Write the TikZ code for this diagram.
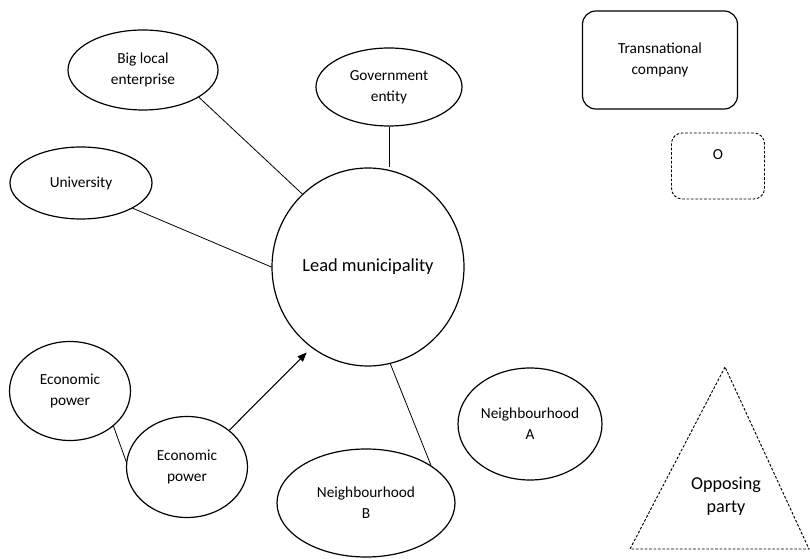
\documentclass[tikz,border=0pt]{standalone}
\usepackage{fontspec}
\setmainfont{Carlito}
\usetikzlibrary{shapes.geometric, arrows.meta, positioning, calc}

\begin{document}
\begin{tikzpicture}[x=0.75pt, y=-0.75pt,
        actor/.style={draw, ellipse, line width=0.9pt, inner sep=0pt, align=center,
            font=\fontsize{11.5}{15.5}\selectfont},
        company/.style={draw, rectangle, rounded corners=10pt, line width=0.9pt, inner sep=0pt,
            align=center, font=\fontsize{11.5}{15.5}\selectfont},
        dashline/.style={line width=0.7pt, dash pattern=on 2pt off 1.3pt},
        link/.style={line width=0.6pt}]
    \useasboundingbox (0,0) rectangle (810,559);

    % central actor
    \node[actor, minimum width=144pt, minimum height=148.5pt,
        font=\fontsize{13.8}{17}\selectfont] (lead) at (368,267) {Lead municipality};

    \node[actor, minimum width=112.5pt, minimum height=60pt] (big) at (143,70) {Big local\\enterprise};
    \node[actor, minimum width=109.5pt, minimum height=58.5pt] (gov) at (389,87) {Government\\entity};
    \node[actor, minimum width=106.5pt, minimum height=54pt] (uni) at (81,183) {University};
    \node[actor, minimum width=90.75pt, minimum height=74.25pt] (econA) at (70,391) {Economic\\power};
    \node[actor, minimum width=90.75pt, minimum height=75.75pt] (econB) at (187,467) {Economic\\power};
    \node[actor, minimum width=108pt, minimum height=84pt] (hoodA) at (530,424) {Neighbourhood\\A};
    \node[actor, minimum width=133.5pt, minimum height=81pt] (hoodB) at (366,503) {Neighbourhood\\B};

    % outside parties
    \node[company, minimum width=116.25pt, minimum height=73.5pt] (trans) at (660,60) {Transnational\\company};
    \node[draw, rectangle, rounded corners=8pt, dashline, inner sep=0pt,
        minimum width=69.75pt, minimum height=49.5pt,
        label={[anchor=north, yshift=-9pt, font=\fontsize{11.5}{15.5}\selectfont]north:O}] (other) at (718,166) {};

    \coordinate (top) at (725,367);
    \coordinate (left) at (630,549);
    \coordinate (right) at (809,549);
    \draw[dashline] (top) -- (left) -- (right) -- cycle;
    \node[align=center, font=\fontsize{13.6}{17}\selectfont] (opp) at (726,496) {Opposing\\party};

    % links
    \draw[link] (big.-26) -- (lead.132);
    \draw[link] (gov.south) -- (gov.south |- lead.north);
    \draw[link] (uni.-26) -- (lead.west);
    \draw[link] (econA.-39) -- (econB.175);
    \draw[link, line width=0.8pt, -{Triangle[length=7pt, width=5.5pt]}, shorten >=5pt] (econB.41) -- (lead.-125);
    \draw[link] (lead.-77) -- (hoodB.30);
\end{tikzpicture}
\end{document}
